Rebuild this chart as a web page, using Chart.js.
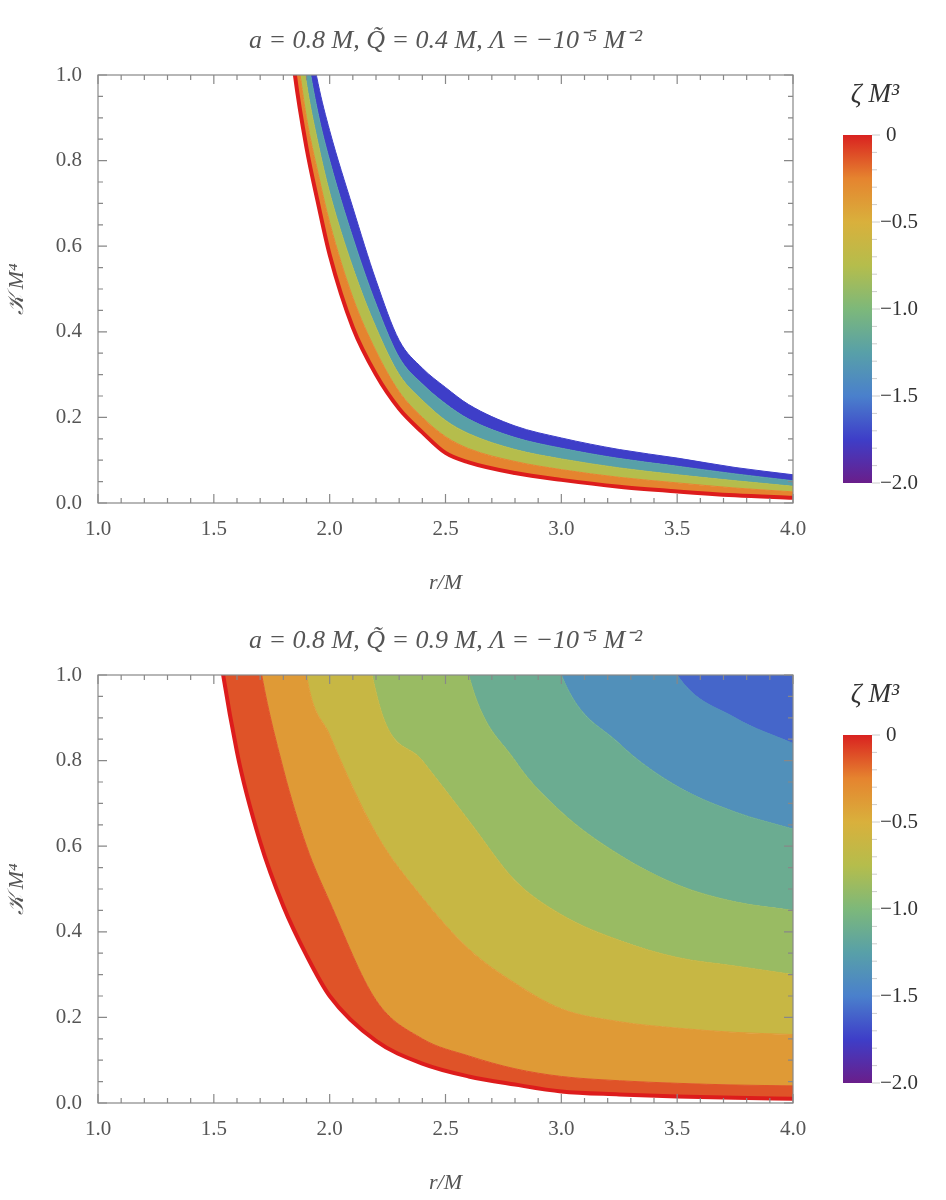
<!DOCTYPE html>
<html>
<head>
<meta charset="utf-8">
<script src="https://cdn.jsdelivr.net/npm/chart.js@4"></script>
<style>
  body { margin: 0; background: #fff; }
  canvas { display: block; }
</style>
</head>
<body>
<canvas id="top" width="946" height="600"></canvas>
<canvas id="bottom" width="946" height="600"></canvas>
<script>
// r grid (r/M) and K M^4 level curves for each zeta M^3
var rTop = [1.8, 1.85, 1.9, 1.95, 2.0, 2.1, 2.2, 2.3, 2.4, 2.5, 2.6, 2.8, 3.0, 3.25, 3.5, 3.75, 4.0];
var topZeta0   = [1.25, 1.0, 0.83, 0.70, 0.58, 0.41, 0.30, 0.22, 0.165, 0.117, 0.095, 0.07, 0.054, 0.038, 0.027, 0.018, 0.012];
var topZeta05  = [1.3, 1.09, 0.9, 0.77, 0.655, 0.48, 0.355, 0.26, 0.2, 0.155, 0.127, 0.097, 0.078, 0.06, 0.047, 0.035, 0.026];
var topZeta10  = [1.42, 1.18, 0.98, 0.84, 0.725, 0.55, 0.41, 0.30, 0.24, 0.193, 0.162, 0.125, 0.103, 0.082, 0.066, 0.052, 0.039];
var topZeta15  = [1.51, 1.27, 1.06, 0.91, 0.8, 0.62, 0.465, 0.34, 0.278, 0.232, 0.196, 0.153, 0.128, 0.104, 0.086, 0.068, 0.052];
var topZeta20  = [1.6, 1.35, 1.13, 0.98, 0.87, 0.69, 0.52, 0.38, 0.315, 0.27, 0.23, 0.18, 0.152, 0.125, 0.105, 0.083, 0.066];

var rBot = [1.45, 1.5, 1.6, 1.7, 1.8, 1.9, 2.0, 2.2, 2.4, 2.6, 2.8, 3.0, 3.25, 3.5, 3.75, 4.0];
var botZeta0   = [1.4, 1.15, 0.82, 0.61, 0.46, 0.345, 0.25, 0.145, 0.092, 0.062, 0.043, 0.027, 0.02, 0.015, 0.012, 0.01];
var botZeta025 = [2.6, 2.1, 1.4, 1.02, 0.78, 0.6, 0.47, 0.24, 0.15, 0.11, 0.08, 0.062, 0.052, 0.046, 0.042, 0.04];
var botZeta05  = [5, 4.5, 3.2, 2.2, 1.5, 1.0, 0.86, 0.63, 0.48, 0.36, 0.28, 0.22, 0.19, 0.175, 0.165, 0.16];
var botZeta075 = [8, 7, 6, 5, 4, 3, 1.8, 0.96, 0.8, 0.66, 0.52, 0.44, 0.38, 0.34, 0.32, 0.3];
var botZeta10  = [12, 11, 10, 9, 8, 6, 5, 3, 1.6, 1.0, 0.8, 0.68, 0.58, 0.51, 0.47, 0.45];
var botZeta125 = [16, 15, 14, 13, 12, 11, 10, 8, 4, 2.2, 1.4, 1.0, 0.84, 0.74, 0.68, 0.64];
var botZeta15  = [20, 19, 18, 17, 16, 15, 14, 12, 10, 6, 3, 2, 1.3, 1.0, 0.9, 0.84];

var xTicks = [1.0, 1.5, 2.0, 2.5, 3.0, 3.5, 4.0];
var yTicks = [0.0, 0.2, 0.4, 0.6, 0.8, 1.0];
var barTicks = [0, -0.5, -1.0, -1.5, -2.0];

// Mathematica-like rainbow, t=0 purple .. t=1 red
var stops = [
  [0.0, [106, 30, 138]], [0.125, [62, 62, 200]], [0.25, [74, 128, 204]],
  [0.375, [88, 160, 168]], [0.5, [125, 184, 122]], [0.625, [181, 189, 76]],
  [0.75, [217, 176, 60]], [0.875, [229, 132, 47]], [1.0, [217, 34, 32]]
];
function zetaColor(z) {
  var t = (z + 2) / 2;
  t = Math.max(0, Math.min(1, t));
  for (var i = 1; i < stops.length; i++) {
    if (t <= stops[i][0]) {
      var a = stops[i - 1], b = stops[i];
      var f = (t - a[0]) / (b[0] - a[0]);
      var c = a[1].map(function (v, k) { return Math.round(v + (b[1][k] - v) * f); });
      return 'rgb(' + c.join(',') + ')';
    }
  }
  return 'rgb(217,34,32)';
}

function pts(rs, ks) {
  return rs.map(function (r, i) { return { x: r, y: ks[i] }; });
}

var grey = '#555';
var serif = 'Liberation Serif';

// frame with inward ticks and colour bar
var framePlugin = {
  id: 'frame',
  afterDraw: function (chart) {
    var ctx = chart.ctx, a = chart.chartArea;
    var xs = chart.scales.x, ys = chart.scales.y;
    var o = chart.options.plugins.frame;
    ctx.save();
    ctx.strokeStyle = '#888';
    ctx.lineWidth = 1.2;
    ctx.strokeRect(a.left, a.top, a.right - a.left, a.bottom - a.top);
    ctx.beginPath();
    for (var i = 0; i <= 30; i++) {
      var v = 1 + i * 0.1, px = xs.getPixelForValue(v);
      var len = (i % 5 === 0) ? 9 : 5;
      ctx.moveTo(px, a.bottom); ctx.lineTo(px, a.bottom - len);
      ctx.moveTo(px, a.top); ctx.lineTo(px, a.top + len);
    }
    for (var j = 0; j <= 20; j++) {
      var py = ys.getPixelForValue(j * 0.05);
      var l2 = (j % 4 === 0) ? 9 : 5;
      ctx.moveTo(a.left, py); ctx.lineTo(a.left + l2, py);
      ctx.moveTo(a.right, py); ctx.lineTo(a.right - l2, py);
    }
    ctx.stroke();

    // title
    ctx.fillStyle = grey;
    ctx.font = 'italic 26px ' + serif;
    ctx.textAlign = 'center';
    ctx.textBaseline = 'alphabetic';
    ctx.fillText(o.title, (a.left + a.right) / 2, 48);

    // colour bar
    var bx = 843, bw = 29, bt = 135, bb = 483;
    var g = ctx.createLinearGradient(0, bt, 0, bb);
    for (var s = stops.length - 1; s >= 0; s--) {
      g.addColorStop(1 - stops[s][0], 'rgb(' + stops[s][1].join(',') + ')');
    }
    ctx.fillStyle = g;
    ctx.fillRect(bx, bt, bw, bb - bt);
    ctx.strokeStyle = '#ccc';
    ctx.lineWidth = 1;
    ctx.beginPath();
    for (var k = 0; k <= 20; k++) {
      var ty = bt + (bb - bt) * k / 20;
      ctx.moveTo(bx + bw, ty); ctx.lineTo(bx + bw + (k % 5 === 0 ? 8 : 5), ty);
    }
    ctx.stroke();
    ctx.fillStyle = '#333';
    ctx.font = '21px ' + serif;
    ctx.textAlign = 'left';
    ctx.textBaseline = 'middle';
    barTicks.forEach(function (z) {
      var ty = bt + (bb - bt) * (-z / 2);
      var lab = z === 0 ? '0' : '\u2212' + Math.abs(z).toFixed(1);
      ctx.fillText(lab, z === 0 ? 886 : 880, ty);
    });
    ctx.font = 'italic 27px ' + serif;
    ctx.textAlign = 'center';
    ctx.fillText('\u03B6 M\u00B3', 875, 95);
    ctx.restore();
  }
};

function makeChart(id, title, rs, levels) {
  var datasets = [];
  levels.forEach(function (lv, i) {
    datasets.push({
      data: pts(rs, lv.k),
      borderColor: i === 0 ? '#dd1c1c' : zetaColor(lv.mid),
      borderWidth: i === 0 ? 4 : 1,
      backgroundColor: i === 0 ? 'transparent' : zetaColor(lv.mid),
      fill: i === 0 ? false : (lv.end ? 'end' : '-1'),
      pointRadius: 0,
      cubicInterpolationMode: 'monotone'
    });
  });
  return new Chart(document.getElementById(id), {
    type: 'line',
    data: { datasets: datasets },
    plugins: [framePlugin],
    options: {
      responsive: false,
      animation: false,
      layout: { padding: { top: 75, right: 153, left: 0, bottom: 0 } },
      plugins: { legend: { display: false }, tooltip: { enabled: false }, frame: { title: title } },
      scales: {
        x: {
          type: 'linear', min: 1, max: 4,
          afterBuildTicks: function (s) { s.ticks = xTicks.map(function (v) { return { value: v }; }); },
          afterFit: function (s) { s.height = 97; },
          grid: { display: false }, border: { display: false },
          ticks: { color: grey, font: { family: serif, size: 21 }, padding: 6, maxRotation: 0,
                   callback: function (v) { return v.toFixed(1); } },
          title: { display: true, text: 'r/M', color: grey, font: { family: serif, size: 22, style: 'italic' }, padding: { top: 6 } }
        },
        y: {
          type: 'linear', min: 0, max: 1,
          afterBuildTicks: function (s) { s.ticks = yTicks.map(function (v) { return { value: v }; }); },
          afterFit: function (s) { s.width = 98; },
          grid: { display: false }, border: { display: false },
          ticks: { color: grey, font: { family: serif, size: 21 }, padding: 8,
                   callback: function (v) { return v.toFixed(1); } },
          title: { display: true, text: '\uD835\uDCA6 M\u2074', color: grey, font: { family: serif, size: 22, style: 'italic' } }
        }
      }
    }
  });
}

makeChart('top', 'a = 0.8 M, Q\u0303 = 0.4 M, \u039B = \u221210\u207B\u2075 M\u207B\u00B2', rTop, [
  { k: topZeta0 },
  { k: topZeta05, mid: -0.25 },
  { k: topZeta10, mid: -0.75 },
  { k: topZeta15, mid: -1.25 },
  { k: topZeta20, mid: -1.75 }
]);

makeChart('bottom', 'a = 0.8 M, Q\u0303 = 0.9 M, \u039B = \u221210\u207B\u2075 M\u207B\u00B2', rBot, [
  { k: botZeta0 },
  { k: botZeta025, mid: -0.125 },
  { k: botZeta05, mid: -0.375 },
  { k: botZeta075, mid: -0.625 },
  { k: botZeta10, mid: -0.875 },
  { k: botZeta125, mid: -1.125 },
  { k: botZeta15, mid: -1.375 },
  { k: botZeta15, mid: -1.6, end: true }
]);
</script>
</body>
</html>
